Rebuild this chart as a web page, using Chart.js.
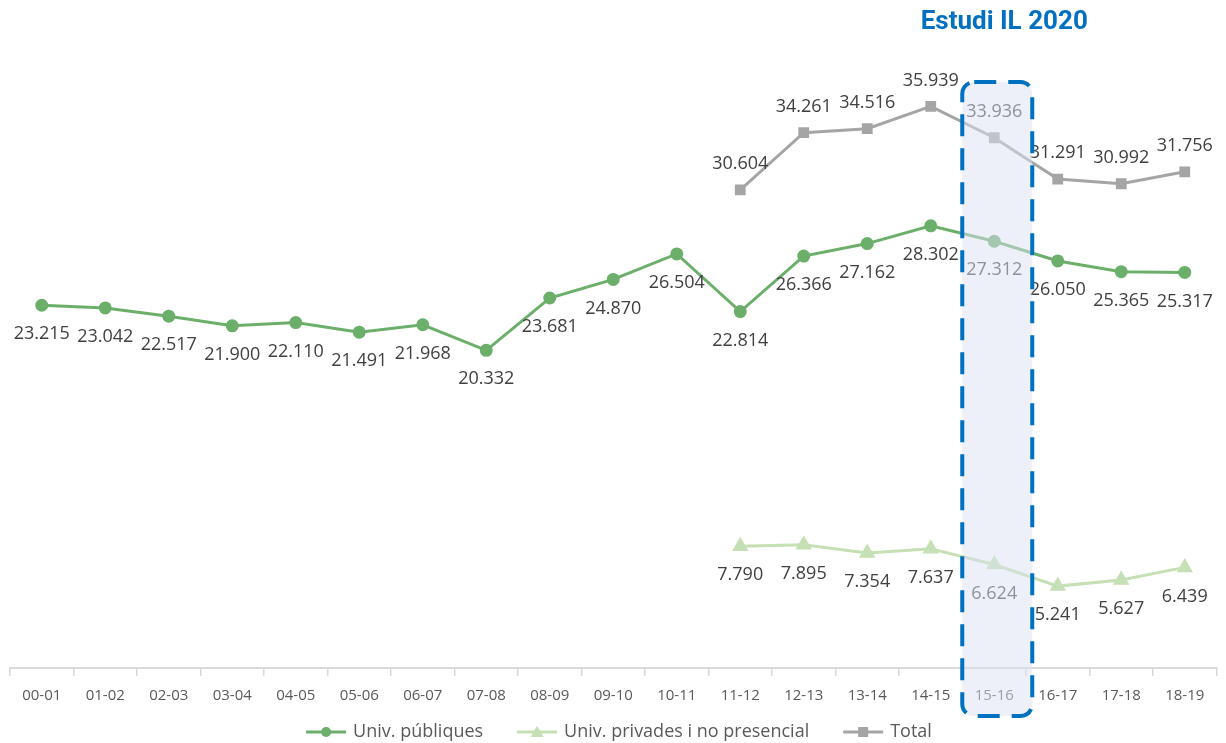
<!DOCTYPE html>
<html>
<head>
<meta charset="utf-8">
<script src="https://cdn.jsdelivr.net/npm/chart.js@4.4.0/dist/chart.umd.min.js"></script>
<style>
    html, body { margin: 0; padding: 0; background: #fff; }
    #wrap { width: 1226px; height: 743px; }
</style>
</head>
<body>
<div id="wrap"><canvas id="grafic"></canvas></div>
<script>
const cursos = ['00-01', '01-02', '02-03', '03-04', '04-05', '05-06', '06-07', '07-08', '08-09', '09-10',
    '10-11', '11-12', '12-13', '13-14', '14-15', '15-16', '16-17', '17-18', '18-19'];
const univPubliques = [23215, 23042, 22517, 21900, 22110, 21491, 21968, 20332, 23681, 24870,
    26504, 22814, 26366, 27162, 28302, 27312, 26050, 25365, 25317];
const univPrivades = [null, null, null, null, null, null, null, null, null, null,
    null, 7790, 7895, 7354, 7637, 6624, 5241, 5627, 6439];
const total = [null, null, null, null, null, null, null, null, null, null,
    null, 30604, 34261, 34516, 35939, 33936, 31291, 30992, 31756];
const nomsSeries = ['Univ. públiques', 'Univ. privades i no presencial', 'Total'];
const cursDestacat = '15-16';
const titolDestacat = 'Estudi IL 2020';

const FONT = '"Open Sans", "Noto Sans", sans-serif';

function fmt(v) {
    return String(v).replace(/\B(?=(\d{3})+(?!\d))/g, '.');
}

function dibuixaMarcador(g, estil, x, y) {
    if (estil === 'circle') {
        g.beginPath(); g.arc(x, y, 5, 0, Math.PI * 2); g.fill();
    } else if (estil === 'triangle') {
        g.beginPath(); g.moveTo(x, y - 6); g.lineTo(x + 6.5, y + 5); g.lineTo(x - 6.5, y + 5); g.closePath(); g.fill();
    } else {
        g.fillRect(x - 5, y - 5, 10, 10);
    }
}

const etiquetes = {
    id: 'etiquetes',
    afterDatasetsDraw(chart) {
        const ctx = chart.ctx;
        ctx.save();
        ctx.font = '18px ' + FONT;
        ctx.fillStyle = '#404040';
        ctx.textAlign = 'center';
        ctx.textBaseline = 'middle';
        chart.data.datasets.forEach((ds, i) => {
            const meta = chart.getDatasetMeta(i);
            meta.data.forEach((pt, j) => {
                const v = ds.data[j];
                if (v == null) return;
                ctx.fillText(fmt(v), pt.x, pt.y + ds.desplEtiqueta);
            });
        });
        ctx.restore();
    }
};

// llegenda a mà: línia + marcador + text, centrada a sota
const llegenda = {
    id: 'llegenda',
    afterDraw(chart) {
        const ctx = chart.ctx;
        const y = 732, linia = 40, separacio = 7, espai = 34;
        ctx.save();
        ctx.font = '18px ' + FONT;
        const amples = chart.data.datasets.map(ds => linia + separacio + ctx.measureText(ds.label).width);
        const totalAmple = amples.reduce((a, b) => a + b, 0) + espai * (amples.length - 1);
        let x = chart.width / 2 - totalAmple / 2 + 6;
        chart.data.datasets.forEach((ds, i) => {
            ctx.strokeStyle = ds.borderColor;
            ctx.fillStyle = ds.borderColor;
            ctx.lineWidth = 3;
            ctx.beginPath(); ctx.moveTo(x, y); ctx.lineTo(x + linia, y); ctx.stroke();
            dibuixaMarcador(ctx, ds.pointStyle, x + linia / 2, y);
            ctx.fillStyle = '#595959';
            ctx.textBaseline = 'middle';
            ctx.fillText(ds.label, x + linia + separacio, y);
            x += amples[i] + espai;
        });
        ctx.restore();
    }
};

const destacat = {
    id: 'destacat',
    afterDraw(chart) {
        const ctx = chart.ctx;
        const area = chart.chartArea;
        const x = chart.scales.x.getPixelForValue(cursos.indexOf(cursDestacat)) + 3;
        const w = 70;
        const left = x - w / 2, top = area.top + 39, bottom = area.bottom + 48;
        ctx.save();
        ctx.beginPath();
        ctx.roundRect(left, top, w, bottom - top, 12);
        ctx.fillStyle = 'rgba(220, 226, 243, 0.5)';
        ctx.fill();
        ctx.setLineDash([22, 12]);
        ctx.lineWidth = 4;
        ctx.strokeStyle = '#0070C0';
        ctx.stroke();
        ctx.setLineDash([]);
        ctx.font = 'bold 26px Roboto, sans-serif';
        ctx.fillStyle = '#0070C0';
        ctx.textAlign = 'center';
        ctx.textBaseline = 'middle';
        ctx.fillText(titolDestacat, x + 7, 22);
        ctx.restore();
    }
};

const colors = ['#6BAF6B', '#C5E0B4', '#A5A5A5'];

const ctx = document.getElementById('grafic').getContext('2d');
const chart = new Chart(ctx, {
    type: 'line',
    data: {
        labels: cursos,
        datasets: [{
            label: nomsSeries[0],
            data: univPubliques,
            borderColor: colors[0],
            backgroundColor: colors[0],
            pointStyle: 'circle',
            pointRadius: 5,
            borderWidth: 3,
            desplEtiqueta: 29
        }, {
            label: nomsSeries[1],
            data: univPrivades,
            borderColor: colors[1],
            backgroundColor: colors[1],
            pointStyle: 'triangle',
            pointRadius: 6.5,
            borderWidth: 3,
            desplEtiqueta: 29
        }, {
            label: nomsSeries[2],
            data: total,
            borderColor: colors[2],
            backgroundColor: colors[2],
            pointStyle: 'rect',
            pointRadius: 5.5,
            borderWidth: 3,
            desplEtiqueta: -26
        }]
    },
    options: {
        responsive: true,
        maintainAspectRatio: false,
        animation: false,
        layout: {
            padding: { top: 43, left: 10, right: 8, bottom: 27 }
        },
        scales: {
            x: {
                offset: true,
                grid: {
                    offset: true,
                    drawOnChartArea: false,
                    drawTicks: true,
                    tickLength: 8,
                    color: '#D9D9D9',
                    lineWidth: 1.5
                },
                border: { color: '#D9D9D9', width: 2 },
                ticks: {
                    color: '#595959',
                    font: { family: FONT, size: 15 },
                    padding: 11,
                    maxRotation: 0,
                    autoSkip: false
                }
            },
            y: {
                display: false,
                min: 0,
                max: 40000
            }
        },
        plugins: {
            legend: { display: false },
            tooltip: { enabled: false }
        }
    },
    plugins: [etiquetes, llegenda, destacat]
});
</script>
</body>
</html>
